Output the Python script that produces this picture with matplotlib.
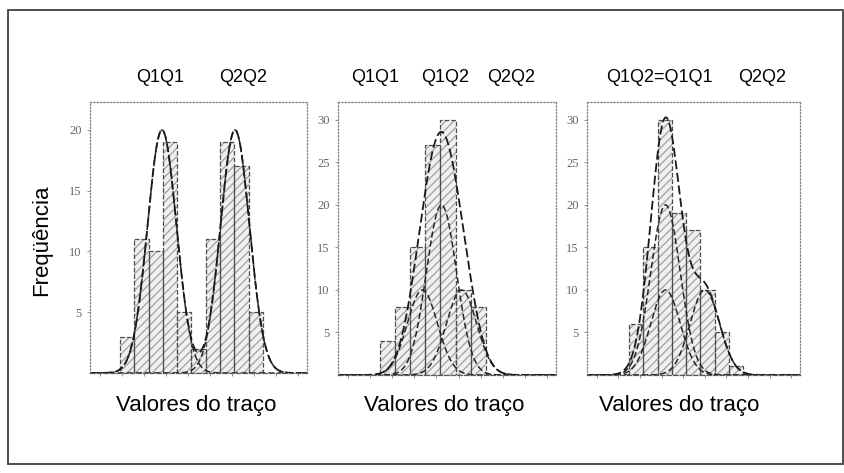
import numpy as np
import matplotlib.pyplot as plt
from matplotlib.patches import Rectangle

# bin edges / counts (x in arbitrary trait units)
edges1 = [3.0, 4.43, 5.86, 7.29, 8.72, 10.15, 11.58, 13.01, 14.44, 15.87, 17.3]
counts1 = [3, 11, 10, 19, 5, 2, 11, 19, 17, 5]
edges2 = [4.2, 5.7, 7.2, 8.7, 10.2, 11.7, 13.2, 14.7]
counts2 = [4, 8, 15, 27, 30, 10, 8]
edges3 = [4.3, 5.75, 7.2, 8.65, 10.1, 11.55, 13.0, 14.45, 15.9]
counts3 = [6, 15, 30, 19, 17, 10, 5, 1]

# normal components: (mean, peak height)
comp1 = [(7.2, 20), (14.5, 20)]
comp2 = [(8.4, 10), (10.3, 20), (12.3, 10)]
comp3 = [(8.0, 10), (8.0, 20), (12.0, 10)]
sigma1 = 1.45
sigma23 = 1.5

titles1 = ["Q1Q1", "Q2Q2"]
titles2 = ["Q1Q1", "Q1Q2", "Q2Q2"]
titles3 = ["Q1Q2=Q1Q1", "Q2Q2"]
yticks1 = [5, 10, 15, 20]
yticks23 = [5, 10, 15, 20, 25, 30]

W, H = 845, 473
fig = plt.figure(figsize=(W / 100, H / 100), dpi=100)
sans = ['Liberation Sans', 'DejaVu Sans']


def px(x0, y0, w, h):
    return [x0 / W, 1 - (y0 + h) / H, w / W, h / H]


def panel(rect, edges, counts, comps, sigma, ylim, yticks):
    ax = fig.add_axes(rect)
    edges = np.array(edges)
    widths = np.diff(edges)
    ax.bar(edges[:-1], counts, width=widths, align='edge', color='0.94',
           hatch='////', edgecolor='0.65', linewidth=0)
    ax.bar(edges[:-1], counts, width=widths, align='edge', fill=False,
           edgecolor='0.3', linestyle='--', linewidth=0.9)
    x = np.linspace(0, 21.7, 400)
    total = np.zeros_like(x)
    for m, h in comps:
        y = h * np.exp(-(x - m) ** 2 / (2 * sigma ** 2))
        total += y
        ax.plot(x, y, color='0.15', linestyle=(0, (4, 2)), linewidth=1.1)
    ax.plot(x, total, color='0.1', linestyle=(0, (5, 2)), linewidth=1.3)
    ax.set_xlim(0, 21.7)
    ax.set_ylim(0, ylim)
    ax.set_yticks(yticks)
    ax.set_yticklabels([str(t) for t in yticks], family='Liberation Serif',
                       fontsize=9, color='0.4')
    ax.set_xticks(np.arange(1, 21, 2.2))
    ax.set_xticklabels([])
    ax.tick_params(length=2, width=0.6, color='0.5', pad=4)
    for s in ax.spines.values():
        s.set_linestyle(':')
        s.set_color('0.5')
        s.set_linewidth(0.9)
    ax.spines['bottom'].set_linestyle('--')
    ax.spines['bottom'].set_color('0.35')
    return ax


panel(px(90, 102, 217, 271), edges1, counts1, comp1, sigma1, 22.3, yticks1)
panel(px(338, 102, 218, 273), edges2, counts2, comp2, sigma23, 32.1, yticks23)
panel(px(587, 102, 213, 273), edges3, counts3, comp3, sigma23, 32.1, yticks23)

# group labels above each panel
for t, xp in zip(titles1, [160, 243]):
    fig.text(xp / W, 1 - 78 / H, t, ha='center', va='center', fontsize=13, family=sans)
for t, xp in zip(titles2, [375, 445, 511]):
    fig.text(xp / W, 1 - 78 / H, t, ha='center', va='center', fontsize=13, family=sans)
for t, xp in zip(titles3, [659, 762]):
    fig.text(xp / W, 1 - 78 / H, t, ha='center', va='center', fontsize=13, family=sans)

for xp in [196, 444, 679]:
    fig.text(xp / W, 1 - 405 / H, "Valores do traço", ha='center', va='center',
             fontsize=16, family=sans)
fig.text(42 / W, 1 - 240 / H, "Freqüência", ha='center', va='center',
         rotation=90, fontsize=16, family=sans)

# outer frame
fig.patches.append(Rectangle((8 / W, 1 - 464 / H), 835 / W, 454 / H,
                             transform=fig.transFigure, fill=False,
                             edgecolor='0.25', linewidth=1.3))

fig.savefig("out.png", dpi=100, facecolor='white')
